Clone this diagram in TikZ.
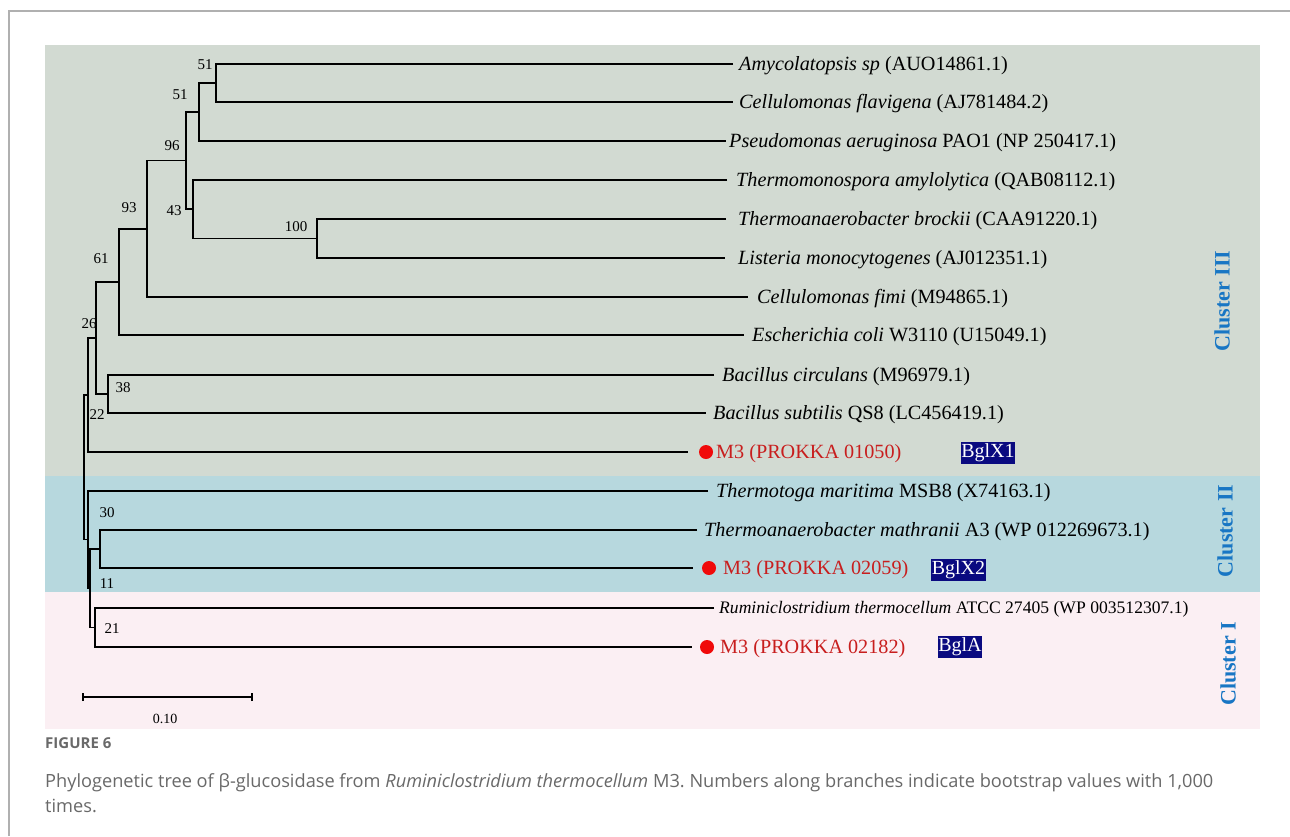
\documentclass[tikz,border=0pt]{standalone}
\usepackage{fontspec}
\setmainfont{Liberation Serif}
\newfontfamily\capfont{Open Sans}
\frenchspacing
\definecolor{gIII}{RGB}{210,218,210}
\definecolor{gII}{RGB}{183,216,222}
\definecolor{gI}{RGB}{251,239,243}
\definecolor{navy}{RGB}{10,10,128}
\definecolor{mred}{RGB}{200,30,30}
\definecolor{dotred}{RGB}{240,10,10}
\definecolor{clblue}{RGB}{24,118,196}
\definecolor{capgray}{RGB}{105,105,105}
\definecolor{framegray}{RGB}{176,176,176}
\begin{document}
\begin{tikzpicture}[x=1pt,y=-1pt,
  br/.style={line width=1.9pt},
  leaf/.style={anchor=west, inner sep=0pt, font=\fontsize{20.2}{24}\selectfont},
  leafs/.style={anchor=west, inner sep=0pt, font=\fontsize{17.6}{21}\selectfont},
  mthree/.style={leaf, text=mred},
  boot/.style={inner sep=0pt, font=\fontsize{15}{18}\selectfont},
  tagbox/.style={fill=navy, text=white, inner sep=0.5pt, minimum height=22pt, font=\fontsize{20}{24}\selectfont},
  clus/.style={rotate=90, text=clblue, inner sep=0pt, font=\fontsize{22}{26}\selectfont\bfseries},
  reddot/.style={circle, fill=dotred, inner sep=0pt, minimum size=14pt}
]
\useasboundingbox (0,0) rectangle (1290,836);
\fill[white] (0,0) rectangle (1290,836);
% frame
\draw[framegray, line width=1.5pt] (9,836) -- (9,11) -- (1290,11);
% cluster panels
\fill[gIII] (45,45) rectangle (1260,476);
\fill[gII] (45,476) rectangle (1260,592);
\fill[gI] (45,592) rectangle (1260,729);

% leaf labels
\node[leaf] (l1) at (739,65.5) {\textit{Amycolatopsis sp} (AUO14861.1)};
\node[leaf] (l2) at (739,103.5) {\textit{Cellulomonas flavigena} (AJ781484.2)};
\node[leaf] (l3) at (729,142.5) {\textit{Pseudomonas aeruginosa} PAO1 (NP 250417.1)};
\node[leaf] (l4) at (736,181.5) {\textit{Thermomonospora amylolytica} (QAB08112.1)};
\node[leaf] (l5) at (738,220.5) {\textit{Thermoanaerobacter brockii} (CAA91220.1)};
\node[leaf] (l6) at (738,259.5) {\textit{Listeria monocytogenes} (AJ012351.1)};
\node[leaf] (l7) at (757,298.5) {\textit{Cellulomonas fimi} (M94865.1)};
\node[leaf] (l8) at (752,336.5) {\textit{Escherichia coli} W3110 (U15049.1)};
\node[leaf] (l9) at (722,376.5) {\textit{Bacillus circulans} (M96979.1)};
\node[leaf] (l10) at (713,414.5) {\textit{Bacillus subtilis} QS8 (LC456419.1)};
\node[mthree] (l11) at (716,453.5) {M3 (PROKKA 01050)};
\node[leaf] (l12) at (716,492.5) {\textit{Thermotoga maritima} MSB8 (X74163.1)};
\node[leaf] (l13) at (704,531.5) {\textit{Thermoanaerobacter mathranii} A3 (WP 012269673.1)};
\node[mthree] (l14) at (723,569.5) {M3 (PROKKA 02059)};
\node[leafs] (l15) at (719,609) {\textit{Ruminiclostridium thermocellum} ATCC 27405 (WP 003512307.1)};
\node[mthree] (l16) at (720,648.5) {M3 (PROKKA 02182)};

% red dots
\node[reddot] (d11) at (706,452) {};
\node[reddot] (d14) at (709,568) {};
\node[reddot] (d16) at (707,647) {};

% tags
\node[tagbox] (t1) at (988,453) {BglX1};
\node[tagbox] (t2) at (958.5,570) {BglX2};
\node[tagbox] (t3) at (960,647) {BglA};

% leaf line ends
\coordinate (e1) at (733,64);
\coordinate (e2) at (733,102);
\coordinate (e3) at (726,141);
\coordinate (e4) at (727,180);
\coordinate (e5) at (726,219);
\coordinate (e6) at (725,258);
\coordinate (e7) at (748,297);
\coordinate (e8) at (744,335);
\coordinate (e9) at (714,375);
\coordinate (e10) at (706,413);
\coordinate (e11) at (688,452);
\coordinate (e12) at (708,491);
\coordinate (e13) at (697,530);
\coordinate (e14) at (693,568);
\coordinate (e15) at (714,608);
\coordinate (e16) at (692,647);

% internal nodes
\coordinate (nA) at (216,83);
\coordinate (nB) at (199,112);
\coordinate (nC) at (317,238.5);
\coordinate (nD) at (193,209);
\coordinate (nE) at (186,160.5);
\coordinate (nF) at (147,228.75);
\coordinate (nG) at (119,282);
\coordinate (nH) at (108,394);
\coordinate (nI) at (96,338);
\coordinate (nJ) at (88,395);
\coordinate (nK) at (100,549);
\coordinate (nL) at (95,627.5);
\coordinate (nM) at (90,588);
\coordinate (nN) at (88,539.5);
\coordinate (nR) at (84,467);

% branches
\draw[br] (e1) -| (nA) |- (e2);
\draw[br] (nA) -| (nB) |- (e3);
\draw[br] (e5) -| (nC) |- (e6);
\draw[br] (e4) -| (nD) |- (nC);
\draw[br] (nB) -| (nE) |- (nD);
\draw[br] (nE) -| (nF) |- (e7);
\draw[br] (nF) -| (nG) |- (e8);
\draw[br] (e9) -| (nH) |- (e10);
\draw[br] (nG) -| (nI) |- (nH);
\draw[br] (nI) -| (nJ) |- (e11);
\draw[br] (e13) -| (nK) |- (e14);
\draw[br] (e15) -| (nL) |- (e16);
\draw[br] (nK) -| (nM) |- (nL);
\draw[br] (e12) -| (nN) |- (nM);
\draw[br] (nJ) -| (nR) |- (nN);

% bootstrap values
\node[boot] (b1) at (205,65) {51};
\node[boot] (b2) at (180,95) {51};
\node[boot] (b3) at (172,146) {96};
\node[boot] (b4) at (129,208) {93};
\node[boot] (b5) at (174,211) {43};
\node[boot] (b6) at (296,227) {100};
\node[boot] (b7) at (101,259) {61};
\node[boot] (b8) at (89,324) {26};
\node[boot] (b9) at (123,388) {38};
\node[boot] (b10) at (97,415) {22};
\node[boot] (b11) at (107,513) {30};
\node[boot] (b12) at (107,584) {11};
\node[boot] (b13) at (112,629) {21};

% scale bar
\coordinate (s1) at (83,697);
\coordinate (s2) at (252,697);
\draw[line width=1.6pt] (s1) -- (s2);
\draw[line width=1.6pt] ([yshift=-4pt]s1) -- ([yshift=4pt]s1);
\draw[line width=1.6pt] ([yshift=-4pt]s2) -- ([yshift=4pt]s2);
\node[boot, font=\fontsize{14}{17}\selectfont] (sl) at (165,719) {0.10};

% cluster labels
\node[clus] (c3) at (1222,301) {Cluster III};
\node[clus] (c2) at (1225,531) {Cluster II};
\node[clus] (c1) at (1228,664) {Cluster I};

% caption
\node[anchor=base west, inner sep=0pt, text=capgray, font=\capfont\bfseries\fontsize{15}{18}\selectfont] (fig) at (45,748) {FIGURE 6};
\node[anchor=base west, inner sep=0pt, text=capgray, font=\capfont\fontsize{18.2}{22}\selectfont] (cap1) at (45,787) {Phylogenetic tree of β-glucosidase from \textit{Ruminiclostridium thermocellum} M3. Numbers along branches indicate bootstrap values with 1,000};
\node[anchor=base west, inner sep=0pt, text=capgray, font=\capfont\fontsize{18.2}{22}\selectfont] (cap2) at (45,812) {times.};
\end{tikzpicture}
\end{document}
